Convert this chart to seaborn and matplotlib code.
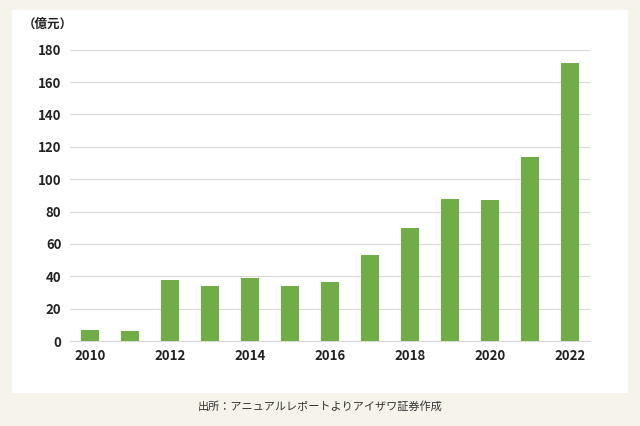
import pandas as pd
import matplotlib.pyplot as plt
import seaborn as sns
from matplotlib.patches import Rectangle

years = list(range(2010, 2023))
values = [6.5, 6, 37.5, 34, 39, 34, 36.5, 53, 70, 88, 87, 113.5, 172]
tick_labels = [str(y) if y % 2 == 0 else '' for y in years]

df = pd.DataFrame({'year': [str(y) for y in years], 'value': values})

plt.rcParams['font.family'] = 'Noto Sans CJK JP'
fig = plt.figure(figsize=(6.4, 4.26), dpi=100, facecolor='#f5f3ea')
fig.patches.append(Rectangle((0.019, 0.077), 0.962, 0.9, transform=fig.transFigure,
                             facecolor='white', edgecolor='none', zorder=-10))
ax = fig.add_axes([0.109, 0.1995, 0.813, 0.684])
ax.set_facecolor('none')

sns.barplot(data=df, x='year', y='value', color='#70ad47', width=0.45,
            saturation=1, ax=ax, zorder=3)

ax.set_ylim(0, 180)
ax.set_yticks(range(0, 181, 20))
ax.set_xticks(range(len(years)))
ax.set_xticklabels(tick_labels)
ax.grid(axis='y', color='#d9d9d9', linewidth=0.8, zorder=0)
ax.set_axisbelow(True)
for s in ax.spines.values():
    s.set_visible(False)
ax.spines['bottom'].set_visible(True)
ax.spines['bottom'].set_color('#d9d9d9')
ax.tick_params(length=0, labelsize=9.5, colors='#222222', pad=6)
for lbl in ax.get_xticklabels() + ax.get_yticklabels():
    lbl.set_fontweight('bold')
ax.set_xlabel('')
ax.set_ylabel('')

fig.text(0.035, 0.935, '（億元）', fontsize=9, fontweight='bold', color='#222222')
fig.text(0.5, 0.037, '出所：アニュアルレポートよりアイザワ証券作成', fontsize=8,
         ha='center', color='#333333')

fig.savefig('out.png', dpi=100, facecolor=fig.get_facecolor())
